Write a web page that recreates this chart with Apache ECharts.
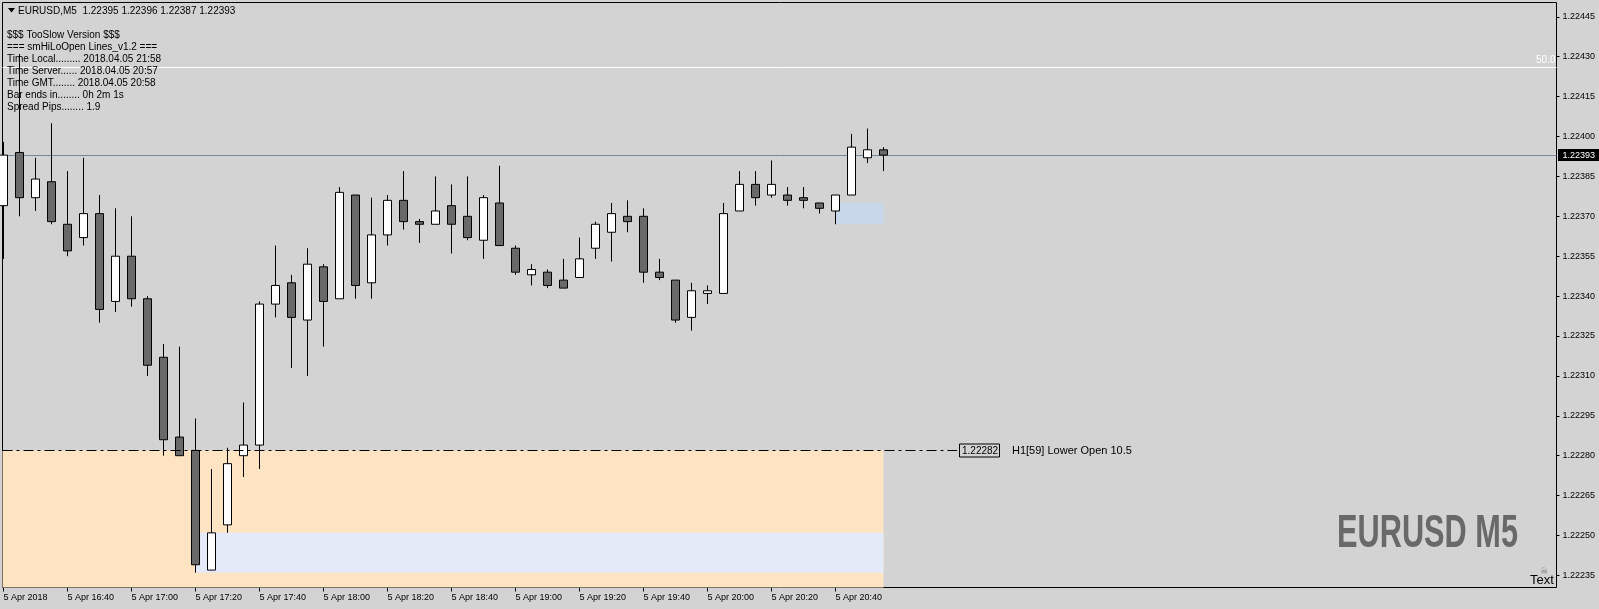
<!DOCTYPE html>
<html><head><meta charset="utf-8">
<script src="https://cdn.jsdelivr.net/npm/echarts@6/dist/echarts.min.js"></script>
<style>html,body{margin:0;padding:0;background:#D3D3D3;}#c{width:1599px;height:609px;}</style>
</head><body><div id="c"></div>
<script>
// ---------- data ----------
const barTimes = ['16:20','16:25','16:30','16:35','16:40','16:45','16:50','16:55','17:00','17:05','17:10','17:15','17:20','17:25','17:30','17:35','17:40','17:45','17:50','17:55','18:00','18:05','18:10','18:15','18:20','18:25','18:30','18:35','18:40','18:45','18:50','18:55','19:00','19:05','19:10','19:15','19:20','19:25','19:30','19:35','19:40','19:45','19:50','19:55','20:00','20:05','20:10','20:15','20:20','20:25','20:30','20:35','20:40','20:45','20:50','20:55'];
const opens  = [1.22374,1.22394,1.22377,1.22383,1.22367,1.22362,1.22371,1.22338,1.22355,1.22339,1.22317,1.22287,1.22282,1.22237,1.22254,1.22280,1.22284,1.22337,1.22345,1.22331,1.22351,1.22339,1.22378,1.22345,1.22363,1.22376,1.22368,1.22367,1.22374,1.22370,1.22361,1.22375,1.22358,1.22348,1.22349,1.22346,1.22347,1.22358,1.22364,1.22370,1.22370,1.22349,1.22346,1.22332,1.22341,1.22341,1.22372,1.22382,1.22378,1.22378,1.22377,1.22375,1.22372,1.22378,1.22392,1.22395];
const closes = [1.22393,1.22377,1.22384,1.22368,1.22357,1.22371,1.22335,1.22355,1.22339,1.22314,1.22286,1.22280,1.22239,1.22251,1.22277,1.22284,1.22337,1.22344,1.22332,1.22352,1.22338,1.22379,1.22344,1.22363,1.22376,1.22368,1.22367,1.22372,1.22367,1.22362,1.22377,1.22359,1.22349,1.22350,1.22344,1.22343,1.22354,1.22367,1.22371,1.22368,1.22349,1.22347,1.22331,1.22342,1.22342,1.22371,1.22382,1.22377,1.22382,1.22376,1.22376,1.22373,1.22378,1.22396,1.22395,1.22393];
const highs  = [1.22398,1.22431,1.22392,1.22405,1.22387,1.22392,1.22378,1.22373,1.22370,1.22340,1.22322,1.22321,1.22294,1.22275,1.22283,1.22300,1.22338,1.22359,1.22348,1.22358,1.22352,1.22381,1.22378,1.22377,1.22378,1.22387,1.22369,1.22385,1.22382,1.22385,1.22378,1.22389,1.22359,1.22352,1.22350,1.22354,1.22362,1.22368,1.22375,1.22376,1.22373,1.22354,1.22346,1.22345,1.22344,1.22375,1.22387,1.22387,1.22391,1.22381,1.22381,1.22375,1.22378,1.22401,1.22403,1.22396];
const lows   = [1.22354,1.22370,1.22372,1.22367,1.22355,1.22359,1.22330,1.22334,1.22336,1.22310,1.22280,1.22280,1.22236,1.22237,1.22251,1.22272,1.22275,1.22332,1.22313,1.22310,1.22321,1.22339,1.22339,1.22339,1.22359,1.22365,1.22360,1.22367,1.22356,1.22361,1.22354,1.22359,1.22348,1.22344,1.22343,1.22343,1.22347,1.22354,1.22353,1.22364,1.22345,1.22346,1.22330,1.22327,1.22337,1.22341,1.22372,1.22374,1.22377,1.22374,1.22373,1.22371,1.22367,1.22378,1.22390,1.22387];

const timeTickBars   = [0,4,8,12,16,20,24,28,32,36,40,44,48,52];
const timeTickLabels = ['5 Apr 2018','5 Apr 16:40','5 Apr 17:00','5 Apr 17:20','5 Apr 17:40','5 Apr 18:00','5 Apr 18:20','5 Apr 18:40','5 Apr 19:00','5 Apr 19:20','5 Apr 19:40','5 Apr 20:00','5 Apr 20:20','5 Apr 20:40'];
const priceTicks = [1.22235,1.22250,1.22265,1.22280,1.22295,1.22310,1.22325,1.22340,1.22355,1.22370,1.22385,1.22400,1.22415,1.22430,1.22445];

const fiftyLevel = 1.22426;
const bidPrice = 1.22393;
const h1LowerOpen = 1.22282;
const h1LabelBar = 59.6;
const h1LabelText = 'H1[59] Lower Open 10.5';

// zones: [startBar, endBar, topPrice, bottomPrice]
const zoneH1Lower = [-2, 55, 1.22282, 1.22200];
const zoneDayLow  = [12, 55, 1.22251, 1.22236];
const zoneRecent  = [52, 55, 1.22375, 1.22367];

const headerText = 'EURUSD,M5  1.22395 1.22396 1.22387 1.22393';
const infoLines = [
  '$$$ TooSlow Version $$$',
  '=== smHiLoOpen Lines_v1.2 ===',
  'Time Local......... 2018.04.05 21:58',
  'Time Server...... 2018.04.05 20:57',
  'Time GMT........ 2018.04.05 20:58',
  'Bar ends in........ 0h 2m 1s',
  'Spread Pips........ 1.9'
];
const watermark = 'EURUSD M5';

// ---------- chart ----------
const FONT = '"Liberation Sans", Arial, sans-serif';
const zoneColors = ['#FFE4C4', '#E4EAF7', '#C8D8EA'];
const chart = echarts.init(document.getElementById('c'), null, {renderer: 'canvas'});

const candleData = barTimes.map((t, i) => [i, opens[i], closes[i], lows[i], highs[i]]);

function zoneRender(params, api) {
  const cs = params.coordSys;
  const p0 = api.coord([api.value(0), api.value(2)]);
  const p1 = api.coord([api.value(1), api.value(3)]);
  const r = echarts.graphic.clipRectByRect(
    {x: p0[0], y: p0[1], width: p1[0] - p0[0], height: p1[1] - p0[1]},
    {x: cs.x, y: cs.y, width: cs.width, height: cs.height});
  if (!r) return null;
  return {type: 'rect', shape: r, style: {fill: zoneColors[params.dataIndex]}};
}

function levelRender(kind) {
  return function (params, api) {
    const cs = params.coordSys;
    const a = api.coord([api.value(0), api.value(2)]);
    const b = api.coord([api.value(1), api.value(2)]);
    const left = Math.max(a[0], cs.x), right = Math.min(b[0], cs.x + cs.width);
    const y = Math.floor(a[1]) + 0.5;
    const price = api.value(2);
    const ch = [];
    if (kind === 'fifty') {
      ch.push({type: 'line', shape: {x1: left, y1: y, x2: right, y2: y}, style: {stroke: '#FFFFFF', lineWidth: 1}});
      ch.push({type: 'text', style: {text: '50.0', x: right - 1, y: y - 2, align: 'right', verticalAlign: 'bottom', fill: '#FFFFFF', font: '10px ' + FONT}});
    } else if (kind === 'bid') {
      ch.push({type: 'line', shape: {x1: left, y1: y, x2: right, y2: y}, style: {stroke: '#778899', lineWidth: 1}});
      ch.push({type: 'rect', shape: {x: right + 1.5, y: y - 6.5, width: 44, height: 12}, style: {fill: '#000000'}});
      ch.push({type: 'text', style: {text: price.toFixed(5), x: right + 6, y: y, align: 'left', verticalAlign: 'middle', fill: '#FFFFFF', font: '9px ' + FONT}});
    } else {
      ch.push({type: 'line', shape: {x1: left, y1: y, x2: right, y2: y}, style: {stroke: '#000000', lineWidth: 1, lineDash: [10, 4, 3, 4]}});
      ch.push({type: 'rect', shape: {x: Math.round(right) + 2.5, y: y - 6.5, width: 40, height: 13}, style: {fill: 'none', stroke: '#000000', lineWidth: 1}});
      ch.push({type: 'text', style: {text: price.toFixed(5), x: Math.round(right) + 5, y: y + 0.5, align: 'left', verticalAlign: 'middle', fill: '#000000', font: '10px ' + FONT}});
      ch.push({type: 'text', style: {text: h1LabelText, x: Math.round(right) + 55, y: y + 0.5, align: 'left', verticalAlign: 'middle', fill: '#000000', font: '11px ' + FONT}});
    }
    return {type: 'group', children: ch};
  };
}

const graphics = [];
graphics.push({type: 'polygon', z: 100, shape: {points: [[8, 8], [15, 8], [11.5, 12.5]]}, style: {fill: '#000'}});
graphics.push({type: 'text', z: 100, style: {text: headerText, x: 18, y: 11, verticalAlign: 'middle', fill: '#000', font: '10px ' + FONT}});
infoLines.forEach((t, i) => {
  graphics.push({type: 'text', z: 100, style: {text: t, x: 7, y: 35 + i * 12, verticalAlign: 'middle', fill: '#000', font: '10px ' + FONT}});
});
graphics.push({type: 'text', z: 100, x: 1518, y: 534, scaleX: 0.668, style: {text: watermark, x: 0, y: 0, align: 'right', verticalAlign: 'middle', fill: '#696969', font: 'bold 46px ' + FONT}});
graphics.push({type: 'text', z: 100, style: {text: '\u2620', x: 1544, y: 572, align: 'center', verticalAlign: 'middle', fill: '#777', font: '9px "DejaVu Sans"'}});
graphics.push({type: 'text', z: 100, style: {text: 'Text', x: 1530, y: 580, align: 'left', verticalAlign: 'middle', fill: '#000', font: '13px ' + FONT}});

const option = {
  animation: false,
  backgroundColor: '#D3D3D3',
  textStyle: {fontFamily: FONT},
  grid: {left: 2.5, right: 42.5, top: 2.5, bottom: 21.5, show: true, borderColor: '#000', borderWidth: 1, backgroundColor: 'transparent'},
  xAxis: {
    type: 'value', min: -0.0625, max: 97.0625,
    axisLine: {show: false, onZero: false}, splitLine: {show: false},
    axisTick: {show: true, customValues: timeTickBars, length: 4, lineStyle: {color: '#000'}},
    axisLabel: {customValues: timeTickBars, align: 'left', margin: 6, fontSize: 9, color: '#000', fontFamily: FONT,
      formatter: v => timeTickLabels[timeTickBars.indexOf(Math.round(v))]}
  },
  yAxis: {
    type: 'value', position: 'right', min: 1.22230451, max: 1.22450376,
    axisLine: {show: false, onZero: false}, splitLine: {show: false},
    axisTick: {show: true, customValues: priceTicks, length: 3, lineStyle: {color: '#000'}},
    axisLabel: {customValues: priceTicks, margin: 6, fontSize: 9, color: '#000', fontFamily: FONT,
      formatter: v => Number(v).toFixed(5)}
  },
  series: [
    {type: 'custom', z: 1, silent: true, renderItem: zoneRender, encode: {x: [0, 1], y: [2, 3]},
      data: [zoneH1Lower, zoneDayLow, zoneRecent]},
    {type: 'custom', z: 2, silent: true, renderItem: levelRender('fifty'), encode: {x: [0, 1], y: 2},
      data: [[-2, 99, fiftyLevel]]},
    {type: 'custom', z: 2, silent: true, renderItem: levelRender('bid'), encode: {x: [0, 1], y: 2},
      data: [[-2, 99, bidPrice]]},
    {type: 'candlestick', z: 3, barWidth: 9, clip: true, data: candleData,
      itemStyle: {color: '#FFFFFF', color0: '#696969', borderColor: '#000000', borderColor0: '#000000', borderWidth: 1}},
    {type: 'custom', z: 4, silent: true, renderItem: levelRender('h1'), encode: {x: [0, 1], y: 2},
      data: [[-2, h1LabelBar, h1LowerOpen]]}
  ],
  graphic: graphics
};
chart.setOption(option);
</script>
</body></html>
